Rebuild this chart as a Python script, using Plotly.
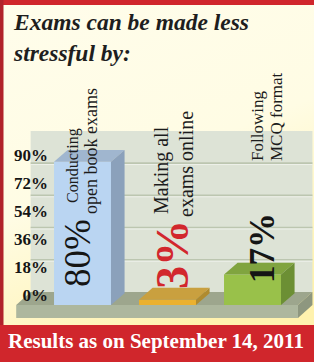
import base64
import plotly.graph_objects as go

# ---------------- data ----------------
categories = ["Conducting open book exams", "Making all exams online", "Following MCQ format"]
label_line1 = ["Conducting", "Making all", "Following"]
label_line2 = ["open book exams", "exams online", "MCQ format"]
values = [80, 3, 17]
value_text = ["80%", "3%", "17%"]
tick_values = [0, 18, 36, 54, 72, 90]
tick_labels = ["0%", "18%", "36%", "54%", "72%", "90%"]
title_lines = ["Exams can be made less", "stressful by:"]
footer_text = "Results as on September 14, 2011"

# ---------------- layout / style ----------------
W, H = 314, 362
SERIF = "Liberation Serif, Times New Roman, serif"

X_PX0, X_SCALE = 82.5, 85.0      # pixel of category 0, pixels per category
Y_PX0, Y_SCALE = 305.0, 1.79     # pixel of value 0, pixels per percent
x_range = [(0 - X_PX0) / X_SCALE, (W - X_PX0) / X_SCALE]
y_range = [(Y_PX0 - H) / Y_SCALE, Y_PX0 / Y_SCALE]

# tick-label scale (front plane of the 3D frame)
T_PX0, T_SCALE = 295.0, 140.0 / 90.0
y2_range = [(T_PX0 - H) / T_SCALE, T_PX0 / T_SCALE]

BAR_W = 0.67
BAR_DX, BAR_DY = 0.16, 6.6
FLOOR_X0, FLOOR_X1 = -0.78, 2.535
DX, DY = 0.17, 7.26
SLAB = 7.26

front_colors = ["#BAD5F2", "#EBB12E", "#99C14A"]
top_colors = ["#A0B6CF", "#C9A03F", "#80A43F"]
side_colors = ["#8BA1BB", "#B08B2E", "#6C8F34"]

RED = "#D0262C"


def px(x):
    return x / W


def py(y):
    return 1 - y / H


fig = go.Figure()

# front faces of bars
xs = list(range(len(categories)))
fig.add_trace(go.Bar(x=xs, y=values, base=0, width=BAR_W,
                     marker=dict(color=front_colors, line=dict(width=0)),
                     hoverinfo="skip", showlegend=False))

# top and side faces
for i, v in enumerate(values):
    xl, xr = i - BAR_W / 2, i + BAR_W / 2
    fig.add_trace(go.Scatter(
        x=[xl, xr, xr + BAR_DX, xl + BAR_DX, xl],
        y=[v, v, v + BAR_DY, v + BAR_DY, v],
        fill="toself", fillcolor=top_colors[i], mode="lines",
        line=dict(width=0, color=top_colors[i]), hoverinfo="skip", showlegend=False))
    fig.add_trace(go.Scatter(
        x=[xr, xr + BAR_DX, xr + BAR_DX, xr, xr],
        y=[0, BAR_DY, v + BAR_DY, v, 0],
        fill="toself", fillcolor=side_colors[i], mode="lines",
        line=dict(width=0, color=side_colors[i]), hoverinfo="skip", showlegend=False))

# invisible trace to hold the tick-label axis
fig.add_trace(go.Scatter(x=[0], y=[0], yaxis="y2", mode="markers",
                         marker=dict(opacity=0), hoverinfo="skip", showlegend=False))

shapes = []
# back wall
shapes.append(dict(type="rect", xref="x", yref="y", layer="below",
                   x0=FLOOR_X0 + DX, x1=FLOOR_X1 + DX, y0=DY, y1=tick_values[-1] + DY,
                   fillcolor="#DDE3D6", line=dict(width=0)))
# wall gridlines
for v in tick_values[1:-1]:
    shapes.append(dict(type="line", xref="x", yref="y", layer="below",
                       x0=FLOOR_X0 + DX, x1=FLOOR_X1 + DX, y0=v + DY, y1=v + DY,
                       line=dict(color="#BCC6B0", width=1.6)))
    shapes.append(dict(type="line", xref="x", yref="y", layer="below",
                       x0=FLOOR_X0 + DX, x1=FLOOR_X1 + DX, y0=v + DY - 0.8, y1=v + DY - 0.8,
                       line=dict(color="#EEF1EA", width=1)))
# floor top
shapes.append(dict(type="path", xref="x", yref="y", layer="below",
                   path=f"M {FLOOR_X0},0 L {FLOOR_X1},0 L {FLOOR_X1 + DX},{DY} L {FLOOR_X0 + DX},{DY} Z",
                   fillcolor="#9DA68D", line=dict(width=0)))
# slab front
shapes.append(dict(type="rect", xref="x", yref="y", layer="below",
                   x0=FLOOR_X0, x1=FLOOR_X1, y0=-SLAB, y1=0,
                   fillcolor="#ADB79E", line=dict(width=0)))
# slab side
shapes.append(dict(type="path", xref="x", yref="y", layer="below",
                   path=f"M {FLOOR_X1},0 L {FLOOR_X1 + DX},{DY} L {FLOOR_X1 + DX},{DY - SLAB} L {FLOOR_X1},{-SLAB} Z",
                   fillcolor="#8E977F", line=dict(width=0)))
# red frame and footer banner
shapes.append(dict(type="rect", xref="paper", yref="paper", layer="below",
                   x0=0, x1=1, y0=py(5), y1=1, fillcolor=RED, line=dict(width=0)))
shapes.append(dict(type="rect", xref="paper", yref="paper", layer="below",
                   x0=0, x1=px(3.5), y0=0, y1=1, fillcolor="#B1222A", line=dict(width=0)))
shapes.append(dict(type="rect", xref="paper", yref="paper", layer="below",
                   x0=0, x1=1, y0=0, y1=py(325), fillcolor=RED, line=dict(width=0)))

annotations = []
annotations.append(dict(text="<b><i>" + "<br>".join(title_lines) + "</i></b>",
                        xref="paper", yref="paper",
                        x=px(11), y=py(7), xanchor="left", yanchor="top", align="left",
                        showarrow=False,
                        font=dict(family="Liberation Serif", size=23.5, color="#1E1E1E")))
annotations.append(dict(text=footer_text, xref="paper", yref="paper",
                        x=px(156), y=py(341), xanchor="center", yanchor="middle",
                        showarrow=False,
                        font=dict(family=SERIF, size=21, color="white", weight="bold")))

value_pos = [(77.5, 253.5), (172, 255), (262, 248)]
value_size = [37, 46, 35]
value_color = ["#151515", "#D2272D", "#151515"]
value_weight = ["normal", "bold", "bold"]
line1_pos = [(73, 166), (161, 170), (257, 126)]
line2_pos = [(91, 151), (186, 164), (276, 117)]
line1_size = [16, 20, 17]
line2_size = [18, 20, 17]

for i in range(len(categories)):
    annotations.append(dict(text=value_text[i], xref="paper", yref="paper",
                            x=px(value_pos[i][0]), y=py(value_pos[i][1]), textangle=-90,
                            xanchor="center", yanchor="middle", showarrow=False,
                            font=dict(family=SERIF, size=value_size[i], color=value_color[i],
                                      weight=value_weight[i])))
    annotations.append(dict(text=label_line1[i], xref="paper", yref="paper",
                            x=px(line1_pos[i][0]), y=py(line1_pos[i][1]), textangle=-90,
                            xanchor="center", yanchor="middle", showarrow=False,
                            font=dict(family=SERIF, size=line1_size[i], color="#1C1C1C")))
    annotations.append(dict(text=label_line2[i], xref="paper", yref="paper",
                            x=px(line2_pos[i][0]), y=py(line2_pos[i][1]), textangle=-90,
                            xanchor="center", yanchor="middle", showarrow=False,
                            font=dict(family=SERIF, size=line2_size[i], color="#1C1C1C")))

# background gradient as inline svg
svg = (
    '<svg xmlns="http://www.w3.org/2000/svg" width="314" height="362" preserveAspectRatio="none">'
    '<defs><linearGradient id="g" x1="0" y1="0" x2="0.35" y2="1">'
    '<stop offset="0" stop-color="#FFFDEB"/><stop offset="0.55" stop-color="#FFFCE4"/>'
    '<stop offset="1" stop-color="#FFF2AE"/></linearGradient></defs>'
    '<rect width="314" height="362" fill="url(#g)"/></svg>'
)
bg_src = "data:image/svg+xml;base64," + base64.b64encode(svg.encode()).decode()

fig.update_layout(
    width=W, height=H, autosize=False,
    margin=dict(l=0, r=0, t=0, b=0, pad=0),
    paper_bgcolor="#FFFCE6", plot_bgcolor="rgba(0,0,0,0)",
    xaxis=dict(range=x_range, visible=False, fixedrange=True),
    yaxis=dict(range=y_range, visible=False, fixedrange=True),
    yaxis2=dict(range=y2_range, overlaying="y", anchor="free", position=px(48), side="left",
                tickvals=tick_values, ticktext=tick_labels, showgrid=False, zeroline=False,
                showline=False, ticks="", fixedrange=True,
                tickfont=dict(family=SERIF, size=17, color="#151515", weight="bold")),
    shapes=shapes, annotations=annotations,
    images=[dict(source=bg_src, xref="paper", yref="paper", x=0, y=1, sizex=1, sizey=1,
                 sizing="stretch", layer="below")],
    showlegend=False,
)

fig.write_html("out.html", config={"displayModeBar": False},
               post_script="document.body.style.margin='0';document.body.style.overflow='hidden';")
